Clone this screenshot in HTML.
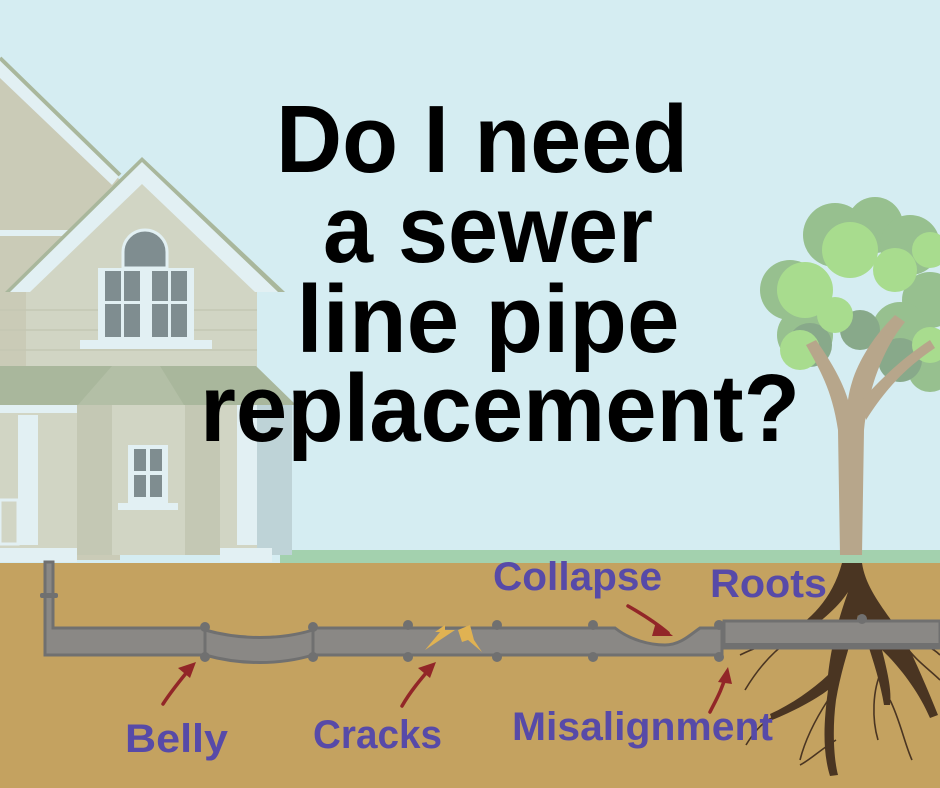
<!DOCTYPE html>
<html><head><meta charset="utf-8"><style>html,body{margin:0;padding:0;background:#d5edf2}svg{display:block}</style></head>
<body>
<svg width="940" height="788" viewBox="0 0 940 788" xmlns="http://www.w3.org/2000/svg">
<rect width="940" height="788" fill="#d5edf2"/>
<rect x="280" y="550" width="660" height="14" fill="#a3d1ae"/>
<rect x="0" y="563" width="940" height="225" fill="#c4a260"/>
<!-- HOUSE -->
<g>
<polygon points="0,60 120,180 120,560 0,560" fill="#cacbb7"/>
<polygon points="0,60 120,175 112,185 0,78" fill="#e2f0f3"/>
<line x1="0" y1="58" x2="120" y2="175" stroke="#a9b79c" stroke-width="4"/>
<rect x="0" y="230" width="70" height="6" fill="#e2f0f3"/>
<polygon points="5,292 142,157 285,292" fill="#a9b79c"/>
<polygon points="10,292 142,162 278,292" fill="#e2f0f3"/>
<polygon points="30,292 142,184 255,292" fill="#d1d5c4"/>
<rect x="26" y="292" width="231" height="75" fill="#d1d5c4"/>
<g stroke="#c4c8b4" stroke-width="1.5">
<line x1="0" y1="310" x2="257" y2="310"/><line x1="0" y1="330" x2="257" y2="330"/><line x1="0" y1="350" x2="257" y2="350"/>
<line x1="0" y1="430" x2="290" y2="430"/><line x1="0" y1="450" x2="290" y2="450"/><line x1="0" y1="470" x2="290" y2="470"/><line x1="0" y1="490" x2="290" y2="490"/><line x1="0" y1="510" x2="290" y2="510"/><line x1="0" y1="530" x2="290" y2="530"/>
</g>
<path d="M123,252 A22,22 0 0 1 167,252 L167,268 L123,268 Z" fill="#7f8d90" stroke="#e2f0f3" stroke-width="3"/>
<rect x="98" y="268" width="96" height="72" fill="#e2f0f3"/>
<rect x="105" y="271" width="16" height="30" fill="#7f8d90"/><rect x="124" y="271" width="16" height="30" fill="#7f8d90"/>
<rect x="152" y="271" width="16" height="30" fill="#7f8d90"/><rect x="171" y="271" width="16" height="30" fill="#7f8d90"/>
<rect x="105" y="304" width="16" height="33" fill="#7f8d90"/><rect x="124" y="304" width="16" height="33" fill="#7f8d90"/>
<rect x="152" y="304" width="16" height="33" fill="#7f8d90"/><rect x="171" y="304" width="16" height="33" fill="#7f8d90"/>
<rect x="80" y="340" width="132" height="9" fill="#e2f0f3"/>
<polygon points="0,366 256,366 296,405 0,405" fill="#a9b79c"/>
<polygon points="112,366 160,366 184,405 78,405" fill="#b3bfa6"/>
<rect x="0" y="405" width="290" height="150" fill="#d1d5c4"/>
<rect x="77" y="405" width="35" height="150" fill="#c4c8b4"/>
<rect x="185" y="405" width="35" height="150" fill="#c4c8b4"/>
<rect x="257" y="405" width="35" height="150" fill="#bed3d7"/>
<rect x="0" y="405" width="77" height="8" fill="#e2f0f3"/>
<rect x="18" y="415" width="20" height="130" fill="#e2f0f3"/>
<rect x="237" y="405" width="20" height="140" fill="#e2f0f3"/>
<rect x="128" y="445" width="40" height="58" fill="#e2f0f3"/>
<rect x="134" y="449" width="12" height="22" fill="#7f8d90"/><rect x="150" y="449" width="12" height="22" fill="#7f8d90"/>
<rect x="134" y="475" width="12" height="22" fill="#7f8d90"/><rect x="150" y="475" width="12" height="22" fill="#7f8d90"/>
<rect x="118" y="503" width="60" height="7" fill="#e2f0f3"/>
<rect x="0" y="500" width="18" height="44" fill="none" stroke="#e2f0f3" stroke-width="3"/>
<rect x="0" y="548" width="77" height="14" fill="#e2f0f3"/>
<rect x="220" y="548" width="52" height="14" fill="#e2f0f3"/>
</g>
<!-- TREE -->
<g>
<g fill="#97c08f">
<circle cx="835" cy="235" r="32"/><circle cx="875" cy="225" r="28"/><circle cx="910" cy="245" r="30"/><circle cx="790" cy="290" r="30"/><circle cx="805" cy="335" r="28"/><circle cx="930" cy="300" r="28"/><circle cx="900" cy="330" r="28"/><circle cx="930" cy="370" r="22"/>
</g>
<g fill="#88a98a">
<circle cx="810" cy="345" r="22"/><circle cx="900" cy="360" r="22"/><circle cx="860" cy="330" r="20"/>
</g>
<g fill="#a8dc8e">
<circle cx="850" cy="250" r="28"/><circle cx="805" cy="290" r="28"/><circle cx="895" cy="270" r="22"/><circle cx="835" cy="315" r="18"/><circle cx="930" cy="250" r="18"/><circle cx="930" cy="345" r="18"/><circle cx="800" cy="350" r="20"/>
</g>
<path d="M840,555 L838,430 C832,390 820,370 806,345 L816,340 C830,360 842,380 848,400 C852,370 870,340 895,315 L905,322 C882,350 868,390 864,430 L862,555 Z" fill="#b7a68b"/>
<path d="M862,400 C880,380 900,360 930,340 L935,348 C905,368 885,390 866,420 Z" fill="#b7a68b"/>
<path d="M842,563 L862,563 C866,590 885,610 905,640 C915,660 928,690 938,715 L930,718 C918,690 898,665 882,650 C887,670 892,690 890,705 L884,705 C880,680 870,650 858,615 C852,640 842,665 836,700 C832,730 834,760 838,775 L830,776 C822,750 824,720 828,690 C815,700 792,712 772,720 L770,714 C792,704 812,690 828,675 C832,640 840,615 848,592 C835,612 810,630 790,642 L785,636 C810,620 832,600 842,563 Z" fill="#4a3522"/>
<g stroke="#4a3522" stroke-width="1.6" fill="none">
<path d="M790,640 C775,650 760,665 745,690"/><path d="M800,636 C780,640 760,645 740,655"/><path d="M905,645 C915,660 930,670 940,680"/><path d="M905,640 C920,640 935,650 940,655"/><path d="M882,670 C872,690 872,720 878,740"/><path d="M772,718 C762,722 752,735 746,745"/><path d="M836,740 C820,750 810,760 800,765"/><path d="M828,700 C815,720 805,740 800,760"/><path d="M890,700 C900,720 905,745 912,760"/>
</g>
</g>
<!-- PIPE -->
<g stroke="#707070" stroke-width="3" fill="#8a8885">
<path d="M45,562 L53,562 L53,628 L205,628 L205,655 L45,655 Z"/>
<path d="M205,630 C240,640 280,640 313,630 L313,655 C280,665 240,665 205,655 Z"/>
<path d="M313,628 L615,628 C630,640 650,645 665,645 C680,645 690,635 700,628 L722,628 L722,655 L313,655 Z"/>
<path d="M724,621 L940,621 L940,648 L724,648 Z"/>
</g>
<rect x="724" y="643" width="216" height="5" fill="#707070"/>
<g fill="#707070">
<rect x="40" y="593" width="18" height="5" rx="2"/>
<circle cx="205" cy="627" r="5"/><circle cx="205" cy="657" r="5"/>
<circle cx="313" cy="627" r="5"/><circle cx="313" cy="657" r="5"/>
<circle cx="408" cy="625" r="5"/><circle cx="408" cy="657" r="5"/>
<circle cx="497" cy="625" r="5"/><circle cx="497" cy="657" r="5"/>
<circle cx="593" cy="625" r="5"/><circle cx="593" cy="657" r="5"/>
<circle cx="719" cy="625" r="5"/><circle cx="719" cy="657" r="5"/>
<circle cx="862" cy="619" r="5"/>
</g>
<g fill="#e0b252">
<polygon points="425,650 440,632 435,632 445,625 445,630 455,630"/>
<polygon points="458,630 470,625 474,640 482,652 468,640 462,642"/>
</g>
<g stroke="#922628" stroke-width="3.5" fill="none" stroke-linecap="round">
<path d="M163,704 C172,690 182,678 192,666"/>
<path d="M402,706 C410,692 420,680 432,666"/>
<path d="M628,606 C642,614 655,622 668,633"/>
<path d="M710,712 C716,700 722,690 727,672"/>
</g>
<g fill="#922628">
<polygon points="196,662 178,668 190,678"/>
<polygon points="436,662 418,668 430,678"/>
<polygon points="673,636 656,622 652,636"/>
<polygon points="728,667 718,682 732,684"/>
</g>
<g font-family="Liberation Sans, sans-serif" font-weight="bold" font-size="96" fill="#000" text-anchor="middle">
<text x="482" y="172" textLength="412" lengthAdjust="spacingAndGlyphs">Do I need</text>
<text x="488" y="262" textLength="330" lengthAdjust="spacingAndGlyphs">a sewer</text>
<text x="488" y="352" textLength="383" lengthAdjust="spacingAndGlyphs">line pipe</text>
<text x="500" y="441" textLength="600" lengthAdjust="spacingAndGlyphs">replacement?</text>
</g>
<g font-family="Liberation Sans, sans-serif" font-weight="bold" font-size="40" fill="#574aa8">
<text x="125" y="752" textLength="103" lengthAdjust="spacingAndGlyphs">Belly</text>
<text x="313" y="748" textLength="129" lengthAdjust="spacingAndGlyphs">Cracks</text>
<text x="512" y="740" textLength="261" lengthAdjust="spacingAndGlyphs">Misalignment</text>
<text x="493" y="590" textLength="169" lengthAdjust="spacingAndGlyphs">Collapse</text>
<text x="710" y="597" textLength="117" lengthAdjust="spacingAndGlyphs">Roots</text>
</g>
</svg>
</body></html>
